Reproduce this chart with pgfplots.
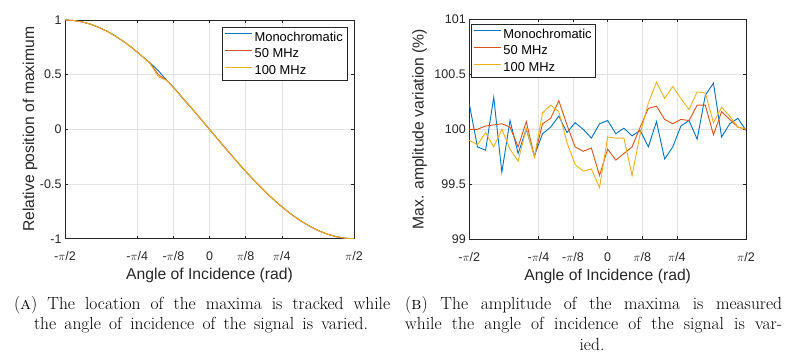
\documentclass[border=0pt]{standalone}
\usepackage{fontspec}
\usepackage{pgfplots}
\usepackage{pgfplotstable}
\pgfplotsset{compat=1.18}
\newfontfamily\arial{Liberation Sans}
\definecolor{mblue}{HTML}{0072BD}
\definecolor{mred}{HTML}{D95319}
\definecolor{myel}{HTML}{EDB120}
\definecolor{axgray}{gray}{0.15}

\pgfplotstableread{
x mono f50 f100
-1.5708 1.0000 1.0000 1.0000
-1.4784 0.9957 0.9957 0.9957
-1.3860 0.9830 0.9830 0.9830
-1.2936 0.9618 0.9618 0.9618
-1.2012 0.9325 0.9325 0.9325
-1.1088 0.8952 0.8952 0.8952
-1.0164 0.8502 0.8502 0.8502
-0.9240 0.7980 0.7980 0.7980
-0.8316 0.7390 0.7390 0.7390
-0.7392 0.6737 0.6737 0.6737
-0.6468 0.6080 0.6026 0.6026
-0.5544 0.5350 0.5000 0.4800
-0.4620 0.4457 0.4457 0.4457
-0.3696 0.3650 0.3612 0.3612
-0.2772 0.2700 0.2737 0.2737
-0.1848 0.1838 0.1838 0.1838
-0.0924 0.0923 0.0923 0.0923
0.0000 0.0000 0.0000 0.0000
0.0924 -0.0923 -0.0923 -0.0923
0.1848 -0.1838 -0.1838 -0.1838
0.2772 -0.2737 -0.2737 -0.2737
0.3696 -0.3650 -0.3612 -0.3612
0.4620 -0.4457 -0.4457 -0.4457
0.5544 -0.5264 -0.5264 -0.5264
0.6468 -0.6026 -0.6026 -0.6026
0.7392 -0.6737 -0.6737 -0.6737
0.8316 -0.7390 -0.7390 -0.7390
0.9240 -0.7980 -0.7980 -0.7980
1.0164 -0.8502 -0.8502 -0.8502
1.1088 -0.8952 -0.8952 -0.8952
1.2012 -0.9325 -0.9325 -0.9325
1.2936 -0.9618 -0.9618 -0.9618
1.3860 -0.9830 -0.9830 -0.9830
1.4784 -0.9957 -0.9957 -0.9957
1.5708 -1.0000 -1.0000 -1.0000
}\lefttab

\pgfplotstableread{
x mono f50 f100
-1.5708 100.23 100.00 99.90
-1.4784 99.84 100.00 99.86
-1.3860 99.81 100.03 99.97
-1.2936 100.29 100.04 99.84
-1.2012 99.61 100.05 100.00
-1.1088 100.08 100.02 99.82
-1.0164 99.78 99.84 99.71
-0.9240 100.00 100.07 100.01
-0.8316 99.76 99.75 99.75
-0.7392 99.96 100.05 100.15
-0.6468 100.02 100.10 100.22
-0.5544 100.12 100.26 100.16
-0.4620 99.97 100.04 99.88
-0.3696 100.06 99.84 99.68
-0.2772 100.00 99.80 99.62
-0.1848 99.92 99.83 99.64
-0.0924 100.05 99.58 99.47
0.0000 100.08 99.82 99.93
0.0924 99.96 99.72 99.92
0.1848 100.01 99.78 99.92
0.2772 99.94 99.84 99.58
0.3696 99.99 100.02 99.96
0.4620 99.84 100.19 100.24
0.5544 100.07 100.21 100.43
0.6468 99.73 100.09 100.28
0.7392 99.84 100.05 100.39
0.8316 100.03 100.09 100.28
0.9240 100.08 100.08 100.18
1.0164 99.91 100.22 100.34
1.1088 100.31 100.22 100.33
1.2012 100.42 99.95 100.06
1.2936 99.93 100.16 100.20
1.3860 100.05 100.09 100.12
1.4784 100.10 100.02 100.02
1.5708 99.99 100.00 100.00
}\righttab

\pgfplotsset{
  mstyle/.style={
    scale only axis,
    axis line style={axgray, line width=0.5pt},
    tick style={axgray, line width=0.5pt},
    major tick length=3pt,
    tick align=inside,
    grid=major,
    major grid style={gray!22, line width=0.5pt},
    xmin=-1.5708, xmax=1.5708,
    xtick={-1.5708,-0.7854,-0.3927,0,0.3927,0.7854,1.5708},
    xticklabels={-$\pi$/2,-$\pi$/4,-$\pi$/8,0,$\pi$/8,$\pi$/4,$\pi$/2},
    tick label style={font=\arial\fontsize{12.5}{14}\selectfont, text=axgray},
    xticklabel style={yshift=-9.5pt},
    /pgf/number format/assume math mode=true,
    label style={font=\arial\fontsize{15.7}{18}\selectfont, text=axgray},
    xlabel={Angle of Incidence (rad)},
    xlabel style={at={(axis description cs:0.5,-0.186)}, anchor=base},
    legend style={font=\arial\fontsize{12.9}{15}\selectfont, text=black,
      line width=0.5pt, fill=white, inner xsep=2pt, inner ysep=2.5pt,
      row sep=2.3pt},
    every axis legend/.append style={draw=axgray},
    legend cell align=left,
    legend image code/.code={\draw[#1, line width=1.5pt] (0pt,3.5pt) -- (27pt,3.5pt);},
    every axis plot/.append style={line width=0.9pt},
  }
}

\begin{document}
\begin{tikzpicture}[x=1pt,y=1pt]
\useasboundingbox (0,0) rectangle (800,362);

\begin{axis}[mstyle,
  at={(65pt,123.3pt)}, anchor=south west,
  width=289pt, height=218.7pt,
  ymin=-1, ymax=1,
  ytick={-1,-0.5,0,0.5,1},
  ylabel={Relative position of maximum},
  ylabel style={at={(axis description cs:-0.107,0.5)}, anchor=base},
  legend style={at={(axis description cs:0.976,0.968)}, anchor=north east},
]
\addplot[draw=mblue] table[x=x, y=mono] {\lefttab};
\addplot[draw=mred] table[x=x, y=f50] {\lefttab};
\addplot[draw=myel] table[x=x, y=f100] {\lefttab};
\legend{Monochromatic, 50 MHz, 100 MHz}
\end{axis}

\begin{axis}[mstyle,
  at={(469.3pt,122.7pt)}, anchor=south west,
  width=276.7pt, height=220pt,
  ymin=99, ymax=101,
  ytick={99,99.5,100,100.5,101},
  ylabel={Max. amplitude variation (\%)},
  ylabel style={at={(axis description cs:-0.1655,0.5)}, anchor=base},
  legend style={at={(axis description cs:0.005,0.979)}, anchor=north west},
]
\addplot[draw=mblue] table[x=x, y=mono] {\righttab};
\addplot[draw=mred] table[x=x, y=f50] {\righttab};
\addplot[draw=myel] table[x=x, y=f100] {\righttab};
\legend{Monochromatic, 50 MHz, 100 MHz}
\end{axis}

\begin{scope}[every node/.style={inner sep=0pt, font=\fontsize{17.5}{20.5}\selectfont}]
\node[anchor=base west] at (14,53) {\hbox to 376pt{(\textsc{a}) The location of the maxima is tracked while}};
\node[anchor=base] at (201,32.5) {\hbox to 334pt{the angle of incidence of the signal is varied.}};
\node[anchor=base west] at (405,53) {\hbox to 377pt{(\textsc{b}) The amplitude of the maxima is measured}};
\node[anchor=base west] at (405,32.5) {\hbox to 377pt{while the angle of incidence of the signal is var-}};
\node[anchor=base] at (592,12) {ied.};
\end{scope}
\end{tikzpicture}
\end{document}
